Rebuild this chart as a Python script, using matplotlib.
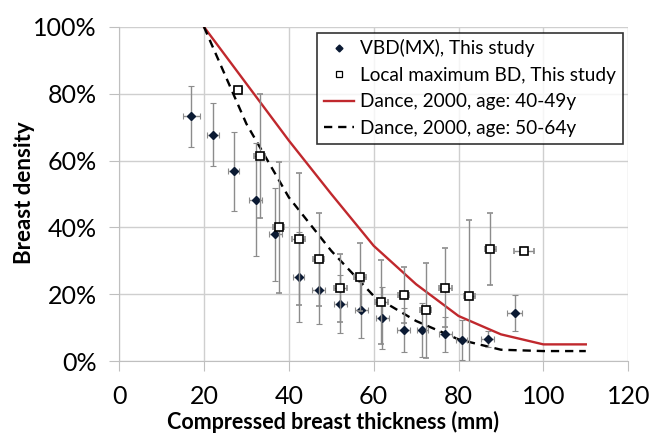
import matplotlib
matplotlib.use("Agg")
import matplotlib.pyplot as plt
from matplotlib.lines import Line2D
from matplotlib.ticker import PercentFormatter

plt.rcParams['font.family'] = ['Lato', 'DejaVu Sans']

# VBD(MX) per thickness bin
vbd_x = [17.0, 22.1, 27.0, 32.2, 36.8, 42.3, 47.0, 52.1, 57.1, 62.0, 67.1, 71.4, 76.9, 80.8, 86.9, 93.2]
vbd_y = [73.2, 67.7, 56.8, 48.3, 37.9, 25.2, 21.2, 17.2, 15.2, 12.9, 9.4, 9.2, 8.0, 6.4, 6.6, 14.4]
vbd_yerr = [9.2, 9.4, 11.9, 17.0, 14.0, 13.5, 10.2, 8.7, 8.4, 9.4, 6.6, 8.1, 5.3, 6.0, 2.3, 5.4]
vbd_xerr = [2.0, 1.5, 1.3, 1.5, 1.5, 1.3, 1.5, 1.5, 1.5, 1.5, 1.5, 1.3, 1.5, 1.3, 1.5, 1.8]

# local maximum BD per thickness bin
lmax_x = [28.0, 33.1, 37.6, 42.3, 47.0, 52.1, 56.8, 61.8, 67.1, 72.3, 76.9, 82.5, 87.5, 95.4]
lmax_y = [81.2, 61.4, 40.1, 36.6, 30.4, 21.9, 25.1, 17.6, 19.8, 15.2, 22.0, 19.6, 33.5, 33.0]
lmax_yerr = [0.0, 18.5, 19.6, 19.8, 14.0, 10.2, 10.2, 12.5, 8.5, 14.3, 11.7, 22.5, 10.8, 0.0]
lmax_xerr = [1.0, 1.3, 1.3, 1.5, 1.3, 1.5, 1.5, 1.5, 1.3, 1.3, 1.5, 1.3, 1.3, 2.4]

# Dance 2000 reference curves
dance_x = [20, 30, 40, 50, 60, 70, 80, 90, 100, 110]
dance_4049 = [100, 83, 66, 50, 34.5, 23, 13.5, 8, 5, 5]
dance_5064 = [100, 71, 49, 33, 19.5, 12, 6.5, 3.4, 3, 3]

RED = '#c0282d'
NAVY = '#0b1a33'

fig = plt.figure(figsize=(6.51, 4.34), dpi=100)
ax = fig.add_axes([0.183, 0.168, 0.782, 0.770])

ebar = dict(ecolor='#8c8c8c', elinewidth=1.0, capsize=2.5, capthick=0.8, linestyle='none')
ax.errorbar(vbd_x, vbd_y, yerr=vbd_yerr, xerr=vbd_xerr, fmt='D', color=NAVY,
            markersize=4, zorder=4, **ebar)
ax.errorbar(lmax_x, lmax_y, yerr=lmax_yerr, xerr=lmax_xerr, fmt='s', color='black',
            markerfacecolor='white', markeredgewidth=1.2, markersize=6, zorder=5, **ebar)
ax.plot(dance_x, dance_4049, color=RED, lw=1.7, zorder=3)
ax.plot(dance_x, dance_5064, color='black', lw=1.7, ls=(0, (3.5, 2.5)), zorder=3)

ax.set_xlim(0, 120)
ax.set_ylim(0, 100)
ax.set_xticks(range(0, 121, 20))
ax.set_yticks(range(0, 101, 20))
ax.yaxis.set_major_formatter(PercentFormatter(100, decimals=0))
ax.grid(True, color='#cfcfcf', lw=1.0)
ax.set_axisbelow(True)
for s in ['top', 'right']:
    ax.spines[s].set_visible(False)
for s in ['left', 'bottom']:
    ax.spines[s].set_color('#bfbfbf')
ax.tick_params(axis='both', colors='#bfbfbf', labelcolor='black', labelsize=18, length=7)
ax.tick_params(axis='x', pad=10)
ax.tick_params(axis='y', pad=9)

# axis titles sit centred on the chart area rather than the plot area
ax.set_xlabel('Compressed breast thickness (mm)', fontsize=15.5, fontweight='bold')
ax.xaxis.set_label_coords(0.42, -0.148)
ax.set_ylabel('Breast density', fontsize=16, fontweight='bold')
ax.yaxis.set_label_coords(-0.165, 0.505)

handles = [
    Line2D([], [], ls='none', marker='D', markersize=3.5, color=NAVY),
    Line2D([], [], ls='none', marker='s', markersize=5, color='black',
           markerfacecolor='white', markeredgewidth=0.9),
    Line2D([], [], color=RED, lw=1.7),
    Line2D([], [], color='black', lw=1.7, ls=(0, (3.5, 2.5))),
]
labels = ['VBD(MX), This study', 'Local maximum BD, This study',
          'Dance, 2000, age: 40-49y', 'Dance, 2000, age: 50-64y']
leg = ax.legend(handles, labels, loc='upper right', fontsize=13.7, frameon=True, fancybox=False,
                edgecolor='black', borderaxespad=0.3, handlelength=1.6, handletextpad=0.3,
                labelspacing=0.5, borderpad=0.35)
leg.get_frame().set_linewidth(1.2)

fig.savefig('out.png', dpi=100)
